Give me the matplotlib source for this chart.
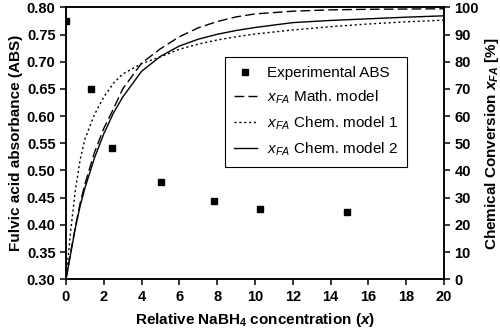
import matplotlib
matplotlib.use("Agg")
import matplotlib.pyplot as plt
import numpy as np

plt.rcParams['font.family'] = ['Liberation Sans', 'DejaVu Sans']
plt.rcParams['font.weight'] = 'bold'
plt.rcParams['mathtext.fontset'] = 'custom'
plt.rcParams['mathtext.rm'] = 'Liberation Sans:regular'
plt.rcParams['mathtext.it'] = 'Liberation Sans:italic:regular'
plt.rcParams['mathtext.bf'] = 'Liberation Sans:bold'
plt.rcParams['mathtext.bfit'] = 'Liberation Sans:bold:italic'

# experimental absorbance
exp_x = [0, 1.3, 2.45, 5.05, 7.85, 10.25, 14.85]
exp_abs = [0.775, 0.649, 0.542, 0.478, 0.444, 0.430, 0.423]

# model conversions x_FA [%]
model_x = [0, 0.25, 0.5, 0.75, 1, 1.5, 2, 2.5, 3, 4, 5, 6, 7, 8, 9, 10, 12, 14, 16, 18, 20]
math_model = [0, 10, 19.5, 28, 35, 46.5, 55.5, 62.5, 70, 79.5, 84.8, 89.2, 92.5, 94.8, 96.5,
              97.6, 98.6, 99.1, 99.3, 99.4, 99.5]
chem_model1 = [0, 18, 33, 44, 51.5, 60.5, 67, 72, 75.5, 79.3, 81.8, 84.6, 86.5, 88.0, 89.2,
               90.2, 91.7, 92.9, 93.9, 94.7, 95.3]
chem_model2 = [0, 9.5, 19, 27, 33.5, 44.5, 53.5, 61, 67, 76.5, 82, 85.8, 88.3, 90.1, 91.5,
               92.6, 94.4, 95.2, 95.8, 96.4, 96.9]

fig = plt.figure(figsize=(5, 3.36), dpi=100)
ax = fig.add_axes([0.132, 0.169, 0.756, 0.809])
ax2 = ax.twinx()

h0, = ax.plot(exp_x, exp_abs, linestyle='none', marker='s', ms=5, color='black',
              label='Experimental ABS')
h1, = ax2.plot(model_x, math_model, color='black', lw=1.0, dashes=(7, 3),
               label=r'$x_{FA}$ Math. model')
h2, = ax2.plot(model_x, chem_model1, color='black', lw=1.0, dashes=(1.5, 2),
               label=r'$x_{FA}$ Chem. model 1')
h3, = ax2.plot(model_x, chem_model2, color='black', lw=1.0, label=r'$x_{FA}$ Chem. model 2')

ax.set_xlim(0, 20)
ax.set_ylim(0.30, 0.80)
ax2.set_ylim(0, 100)
ax.set_xticks(np.arange(0, 21, 2))
ax.set_yticks(np.arange(0.30, 0.801, 0.05))
ax.set_yticklabels([f"{v:.2f}" for v in np.arange(0.30, 0.801, 0.05)])
ax2.set_yticks(np.arange(0, 101, 10))

for a in (ax, ax2):
    for s in a.spines.values():
        s.set_linewidth(1.1)
    a.tick_params(width=1.1, length=4, labelsize=10.5, direction='out')

ax.set_xlabel(r'Relative NaBH$_\mathbf{4}$ concentration ($\mathbfit{x}$)',
              fontsize=11, fontweight='bold', labelpad=5)
ax.set_ylabel('Fulvic acid absorbance (ABS)', fontsize=11, fontweight='bold', labelpad=3)
ax2.set_ylabel(r'Chemical Conversion $\mathbfit{x}_{\mathbfit{FA}}$ [%]', fontsize=11,
               fontweight='bold', labelpad=3)

leg = ax2.legend(handles=[h0, h1, h2, h3], loc='upper left', bbox_to_anchor=(0.40, 0.845),
                 fancybox=False, edgecolor='black', framealpha=1,
                 prop={'size': 11, 'weight': 'normal'},
                 handlelength=1.5, borderpad=0.6, labelspacing=0.55, handletextpad=0.65)
leg.get_frame().set_linewidth(0.8)

fig.savefig("out.png", dpi=100)
